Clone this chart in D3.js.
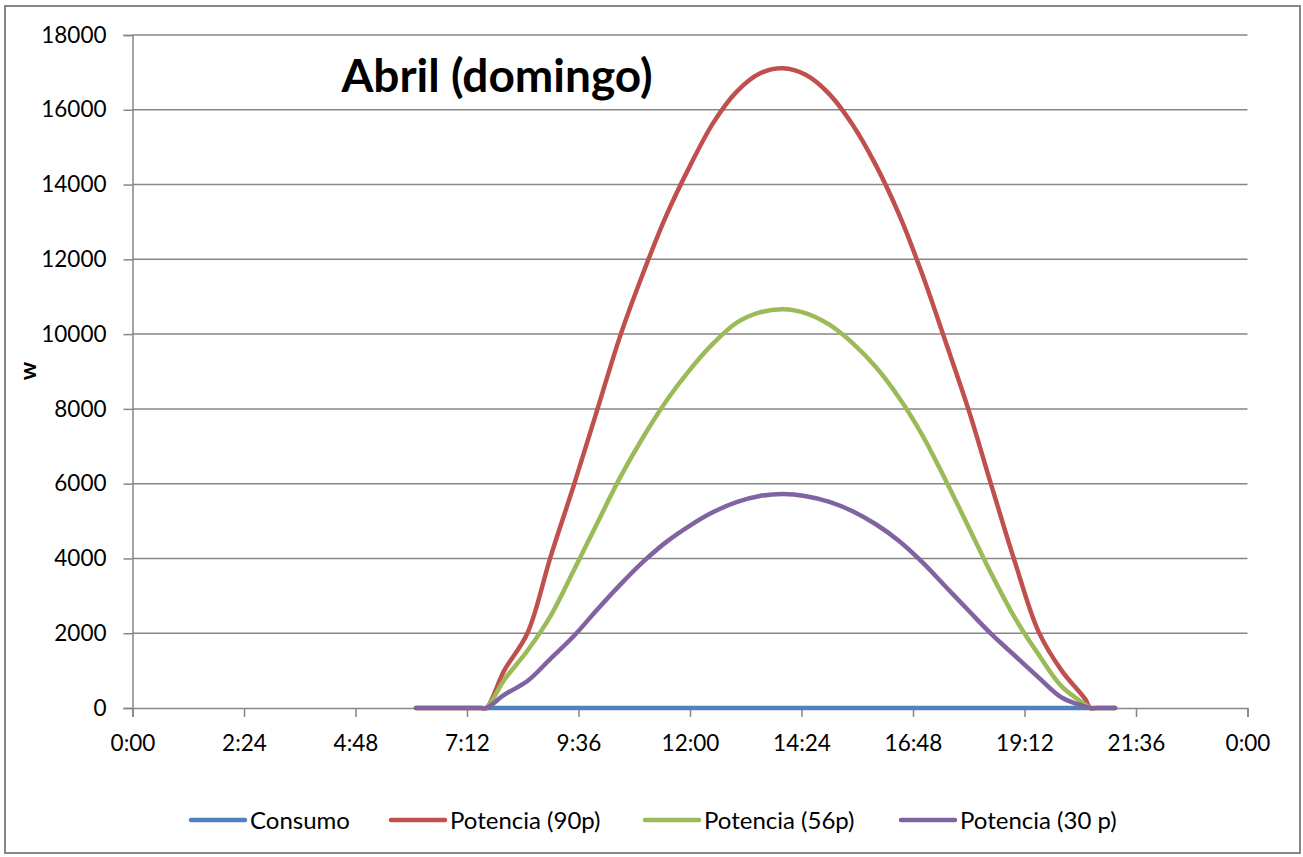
<!DOCTYPE html>
<html><head><meta charset="utf-8">
<script src="https://cdn.jsdelivr.net/npm/d3@7"></script>
<style>body{margin:0;background:#fff}svg{display:block}text{font-family:Lato,"Noto Sans",sans-serif;fill:#000}</style>
</head><body><svg id="c" width="1303" height="857"></svg>
<script>
const times = ["6:06","7:00","7:30","7:37","8:00","8:30","9:00","9:30","10:00","10:30","11:00","11:30","12:00","12:30","13:00","13:30","14:00","14:30","15:00","15:30","16:00","16:30","17:00","17:30","18:00","18:30","19:00","19:30","20:00","20:30","20:37","20:45","21:09"];
const consumo = [null,null,null,0,0,0,0,0,0,0,0,0,0,0,0,0,0,0,0,0,0,0,0,0,0,0,0,0,0,0,0,null,null];
const pot90 = [0,0,0,0,1000,2000,4050,5960,7960,9960,11660,13200,14500,15650,16480,16970,17110,16930,16420,15600,14520,13200,11600,9800,7960,5900,3880,2050,1000,250,0,0,0];
const pot56 = [0,0,0,0,750,1530,2463,3683,4937,6174,7261,8232,9050,9750,10298,10579,10665,10556,10252,9760,9120,8300,7300,6100,4830,3558,2395,1435,578,100,0,0,0];
const pot30 = [0,0,0,0,350,720,1321,1927,2629,3300,3920,4450,4880,5240,5505,5670,5723,5664,5515,5264,4915,4468,3900,3250,2600,1960,1390,820,280,40,0,0,0];
const seriesNames = ["Consumo","Potencia (90p)","Potencia (56p)","Potencia (30 p)"];
const seriesColors = ["#4F81BD","#C0504D","#9BBB59","#8064A2"];
const xTicks = [0,144,288,432,576,720,864,1008,1152,1296,1440];
const yTicks = [0,2000,4000,6000,8000,10000,12000,14000,16000,18000];
const title = "Abril (domingo)";
const yLabel = "w";

const toMin = s => { const [h,m] = s.split(":").map(Number); return h*60+m; };
const fmt = m => { const h = Math.floor(m/60)%24, mm = m%60; return h+":"+(mm<10?"0":"")+mm; };

const svg = d3.select("#c");
const x = d3.scaleLinear().domain([0,1440]).range([132.5,1247.5]);
const y = d3.scaleLinear().domain([0,18000]).range([708,35]);
const grey = "#868686";

svg.append("rect").attr("x",5).attr("y",6).attr("width",1295).attr("height",847)
  .attr("fill","none").attr("stroke",grey).attr("stroke-width",2);

svg.append("g").selectAll("line").data(yTicks.filter(d=>d>0)).join("line")
  .attr("x1",x(0)).attr("x2",x(1440)).attr("y1",d=>y(d)).attr("y2",d=>y(d))
  .attr("stroke",grey).attr("stroke-width",1.5);

const yAxis = svg.append("g").attr("transform",`translate(${x(0)},0)`)
  .call(d3.axisLeft(y).tickValues(yTicks).tickSize(9).tickPadding(17).tickFormat(d=>d));
const xAxis = svg.append("g").attr("transform",`translate(0,${y(0)})`)
  .call(d3.axisBottom(x).tickValues(xTicks).tickSize(9).tickPadding(18).tickFormat(fmt));
[yAxis,xAxis].forEach(a=>{
  a.select(".domain").attr("stroke",grey).attr("stroke-width",1.5);
  a.selectAll(".tick line").attr("stroke",grey).attr("stroke-width",1.5);
  a.selectAll("text").style("font-family","Lato, 'Noto Sans', sans-serif").style("font-size","22.5px").attr("fill","#000");
});

const tm = times.map(toMin);
const all = [consumo,pot90,pot56,pot30];
const line = d3.line().defined(d=>d[1]!==null).x(d=>x(d[0])).y(d=>y(d[1])).curve(d3.curveCatmullRom.alpha(0.5));
all.forEach((s,i)=>{
  svg.append("path").datum(tm.map((t,j)=>[t,s[j]])).attr("d",line)
    .attr("fill","none").attr("stroke",seriesColors[i]).attr("stroke-width",4.5)
    .attr("stroke-linejoin","round").attr("stroke-linecap","round");
});

svg.append("text").attr("x",497).attr("y",92).attr("text-anchor","middle")
  .style("font-size","46px").style("font-weight","bold").text(title);
svg.append("text").attr("transform","translate(36,371) rotate(-90)").attr("text-anchor","middle")
  .style("font-size","23px").style("font-weight","bold").text(yLabel);

const legX = [191,391,645,901];
const lg = svg.append("g");
seriesNames.forEach((n,i)=>{
  lg.append("line").attr("x1",legX[i]).attr("x2",legX[i]+54).attr("y1",820).attr("y2",820)
    .attr("stroke",seriesColors[i]).attr("stroke-width",4.5).attr("stroke-linecap","round");
  lg.append("text").attr("x",legX[i]+59).attr("y",828.5).style("font-size","24px").text(n);
});
</script></body></html>
